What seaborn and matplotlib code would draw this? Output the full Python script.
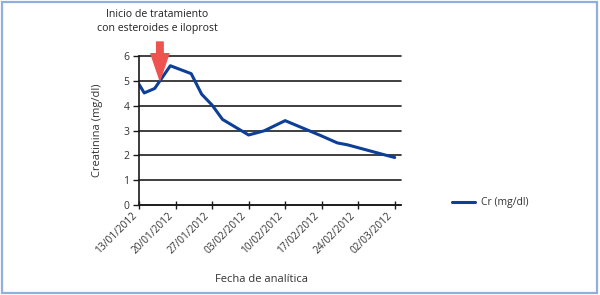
import matplotlib
matplotlib.use("Agg")
import matplotlib.pyplot as plt
import matplotlib.dates as mdates
from matplotlib.patches import Rectangle
import seaborn as sns
import pandas as pd

# Creatinina readings
fechas = [
    "13/01/2012", "14/01/2012", "16/01/2012", "19/01/2012", "23/01/2012",
    "25/01/2012", "27/01/2012", "29/01/2012", "03/02/2012", "06/02/2012",
    "10/02/2012", "17/02/2012", "20/02/2012", "22/02/2012", "29/02/2012",
    "02/03/2012",
]
creatinina = [
    4.87, 4.52, 4.70, 5.62, 5.30,
    4.47, 4.03, 3.45, 2.82, 2.99,
    3.40, 2.78, 2.50, 2.42, 2.02,
    1.91,
]
tick_fechas = ["13/01/2012", "20/01/2012", "27/01/2012", "03/02/2012",
               "10/02/2012", "17/02/2012", "24/02/2012", "02/03/2012"]
y_ticks = [0, 1, 2, 3, 4, 5, 6]

# start of treatment marker
inicio_fecha = "17/01/2012"
inicio_titulo = "Inicio de tratamiento\ncon esteroides e iloprost"

df = pd.DataFrame({
    "fecha": pd.to_datetime(fechas, dayfirst=True),
    "Cr (mg/dl)": creatinina,
})

sns.set_theme(style="white")
plt.rcParams["font.family"] = ["Open Sans", "DejaVu Sans"]

text_col = "#333333"
line_col = "#0d3f98"

fig = plt.figure(figsize=(6.0, 2.95), dpi=100)
ax = fig.add_axes([0.2317, 0.306, 0.4366, 0.503])

sns.lineplot(data=df, x="fecha", y="Cr (mg/dl)", ax=ax, color=line_col,
             linewidth=2.2, label="Cr (mg/dl)", legend=False)

start = pd.to_datetime(tick_fechas[0], dayfirst=True)
ax.set_xlim(start, start + pd.Timedelta(days=50.2))
ax.set_ylim(0, 6)
ax.set_yticks(y_ticks)
ax.set_xticks(pd.to_datetime(tick_fechas, dayfirst=True))
ax.xaxis.set_major_formatter(mdates.DateFormatter("%d/%m/%Y"))

ax.yaxis.grid(True, color="#1f1f1f", linewidth=1.2)
ax.xaxis.grid(False)
ax.set_axisbelow(True)
for gl in ax.get_ygridlines():
    gl.set_clip_on(False)
for s in ["top", "right"]:
    ax.spines[s].set_visible(False)
for s in ["left", "bottom"]:
    ax.spines[s].set_color("#1a1a1a")
    ax.spines[s].set_linewidth(1.2)

ax.tick_params(axis="y", direction="out", length=4, width=1, color="#1a1a1a",
               labelsize=7.5, labelcolor=text_col, pad=3, left=True)
ax.tick_params(axis="x", direction="inout", length=6, width=1, color="#1a1a1a",
               labelsize=7.3, labelcolor=text_col, pad=1, bottom=True)
for lab in ax.get_xticklabels():
    lab.set_rotation(45)
    lab.set_ha("right")
    lab.set_va("top")

ax.set_ylabel("Creatinina (mg/dl)", fontsize=8, color=text_col)
ax.set_xlabel("Fecha de analítica", fontsize=8, color=text_col)
ax.yaxis.set_label_coords(-0.137, 0.5)
ax.xaxis.set_label_coords(0.468, -0.47)

# red arrow marking start of treatment
x_arrow = pd.to_datetime(inicio_fecha, dayfirst=True)
ax.annotate("", xy=(x_arrow, 5.04), xytext=(x_arrow, 6.58),
            arrowprops=dict(arrowstyle="simple,head_length=1.9,head_width=1.3,tail_width=0.47",
                            color="#ef5350", shrinkA=0, shrinkB=0, mutation_scale=10),
            annotation_clip=False)

fig.text(157 / 600, 1 - 21.5 / 295, inicio_titulo, ha="center", va="center",
         fontsize=7.6, color="#222222", linespacing=1.3)

fig.legend(handles=ax.get_lines()[:1], labels=["Cr (mg/dl)"], loc="center left",
           bbox_to_anchor=(452 / 600, 1 - 203 / 295), frameon=False,
           fontsize=7.5, handlelength=2.2, handletextpad=0.55,
           borderpad=0, borderaxespad=0, labelcolor=text_col)

# light blue frame around the figure
fig.add_artist(Rectangle((2 / 600, 2 / 295), 595 / 600, 291 / 295,
                         transform=fig.transFigure, fill=False,
                         edgecolor="#8fb0df", linewidth=1.6))

fig.savefig("out.png", dpi=100)
